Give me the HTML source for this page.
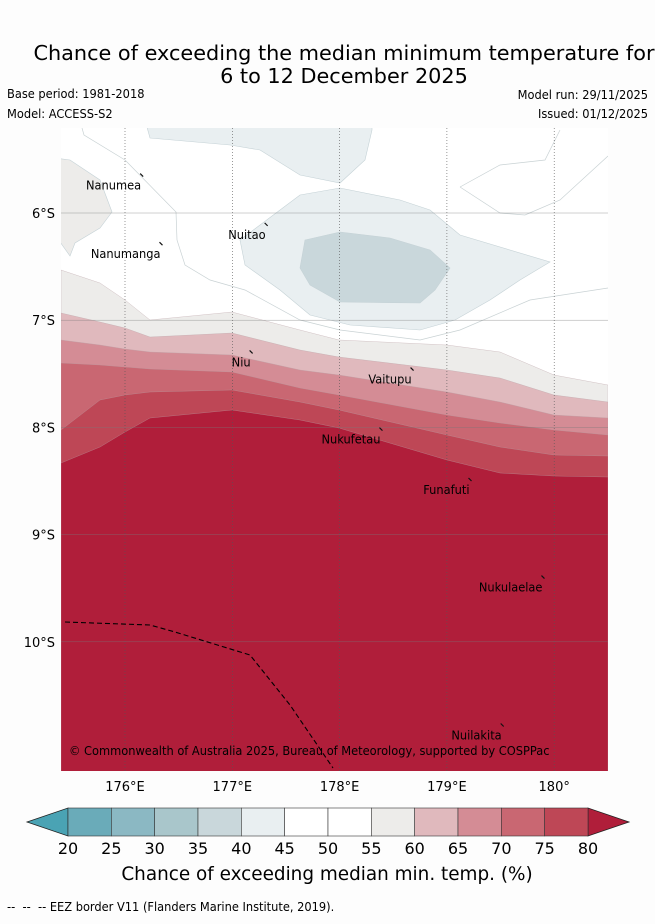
<!DOCTYPE html>
<html><head><meta charset="utf-8"><style>
html,body{margin:0;padding:0;background:#fdfdfd;}
svg text{font-family:"DejaVu Sans","Liberation Sans",sans-serif;}
.sm{font-family:"DejaVu Sans Condensed","DejaVu Sans","Liberation Sans",sans-serif;font-size:12.7px;fill:#000;}
</style></head><body>
<svg id="chart" width="655" height="919" viewBox="0 0 655 919" xmlns="http://www.w3.org/2000/svg">
<rect width="655" height="919" fill="#fdfdfd"/>
<text x="344" y="60" text-anchor="middle" font-size="20.8">Chance of exceeding the median minimum temperature for</text>
<text x="344" y="83" text-anchor="middle" font-size="20.8">6 to 12 December 2025</text>
<text x="7" y="98" class="sm">Base period: 1981-2018</text>
<text x="7" y="118" class="sm">Model: ACCESS-S2</text>
<text x="648" y="99" class="sm" text-anchor="end">Model run: 29/11/2025</text>
<text x="648" y="118" class="sm" text-anchor="end">Issued: 01/12/2025</text>
<defs><clipPath id="mapclip"><rect x="61" y="128" width="547" height="643"/></clipPath></defs>
<g id="map" clip-path="url(#mapclip)"></g>
<g id="axes"></g>
<g id="cbar"></g>
<text x="327" y="880" text-anchor="middle" font-size="18.4">Chance of exceeding median min. temp. (%)</text>
<text x="7" y="911" class="sm">-- &#160;-- &#160;-- EEZ border V11 (Flanders Marine Institute, 2019).</text>
</svg>
<script>
// Axis / data arrays
const lonTicks = [176, 177, 178, 179, 180];
const lonLabels = ["176°E", "177°E", "178°E", "179°E", "180°"];
const latTicks = [6, 7, 8, 9, 10];
const latLabels = ["6°S", "7°S", "8°S", "9°S", "10°S"];
const cbarLevels = [20, 25, 30, 35, 40, 45, 50, 55, 60, 65, 70, 75, 80];
const cbarColors = ["#6aabb9","#8bb8c3","#a9c6cb","#c9d7db","#e9eff1","#ffffff","#ffffff","#edecea","#e0b9bd","#d48c95","#c96772","#be4756"];
// Contour boundaries (pixel-estimated), bands filled from boundary downward
const xs = [61,100,125,150,232,300,339,447,500,554,608];
const band55 = [270,283,300,320,312,330,340,345,352,375,385];
const band60 = [313,322,328,337,333,350,357,370,378,395,402];
const band65 = [340,345,349,352,355,370,375,392,402,415,418];
const band70 = [363,365,367,369,372,388,395,415,423,430,435];
const band75 = [430,400,395,392,390,402,410,435,447,455,456];
const band80 = [463,447,432,418,410,420,428,460,473,476,477];
const bandLevels = [55,60,65,70,75,80];
const bandFill = ["#edecea","#e0b9bd","#d48c95","#c96772","#be4756","#b01e3a"];
const islands = ["Nanumea","Nuitao","Nanumanga","Niu","Vaitupu","Nukufetau","Funafuti","Nukulaelae","Nuilakita"];
const islandLon = [176.16,177.32,176.34,177.18,178.68,178.39,179.22,179.9,179.52];
const islandLat = [5.66,6.12,6.3,7.31,7.47,8.03,8.5,9.41,10.79];

const X0=125, DX=107.3, Y0=213, DY=107.2;
const px = lon => X0 + (lon-176)*DX;
const py = lat => Y0 + (lat-6)*DY;
const toLon = x => 176 + (x-X0)/DX;
const toLat = y => 6 + (y-Y0)/DY;
const NS="http://www.w3.org/2000/svg";
function mk(tag, attrs, parent){const e=document.createElementNS(NS,tag);for(const k in attrs)e.setAttribute(k,attrs[k]);parent.appendChild(e);return e;}
const map=document.getElementById('map');
const bg=mk('rect',{x:61,y:128,width:547,height:643,fill:'#ffffff'},map);



function polyFromPx(pts){return pts.map(p=>px(toLon(p[0])).toFixed(1)+','+py(toLat(p[1])).toFixed(1)).join(' ');}
const blue40a=[[145,120],[372,120],[372,130],[365,160],[340,183],[300,175],[260,150],[230,145],[150,138]];
const blue40b=[[240,240],[300,195],[340,188],[400,200],[430,210],[460,235],[550,262],[520,280],[490,300],[455,320],[420,330],[350,325],[310,315],[280,290],[245,265]];
const blue35=[[305,240],[340,232],[390,238],[430,250],[450,268],[435,290],[420,303],[340,302],[310,285],[300,268]];
const grey55=[[55,158],[70,160],[100,180],[112,212],[100,228],[75,243],[70,256],[55,235]];
[[blue40a,'#e9eff1','region-40-45-north'],[blue40b,'#e9eff1','region-40-45-centre'],[blue35,'#c9d7db','region-35-40'],[grey55,'#edecea','region-55-60-west']].forEach(r=>{
  const p=mk('polygon',{points:polyFromPx(r[0]),fill:r[1],stroke:'#c5d2d6','stroke-width':0.6},map);
  
  
});
[[[82,128],[84,135],[125,160],[176,212],[177,240],[185,265],[210,280],[245,290],[300,320],[340,330],[420,340],[460,330],[530,300],[608,288]],
 [[460,187],[500,165],[545,160],[560,130]],[[460,187],[500,213],[525,215],[560,200],[608,156]]].forEach(l=>{
  const p=mk('polyline',{points:polyFromPx(l),fill:'none',stroke:'#c9d2d4','stroke-width':0.7},map);
  
  
});
const bands=[band55,band60,band65,band70,band75,band80];
bands.forEach((b,i)=>{
  const pts=xs.map((x,j)=>[x,b[j]]);
  pts.push([608,780],[61,780]);
  const p=mk('polygon',{points:polyFromPx(pts),fill:bandFill[i],stroke:'#b8a0a4','stroke-width':0.3},map);
  
  
});
lonTicks.forEach(l=>{const g=mk('line',{x1:px(l),x2:px(l),y1:128,y2:771,stroke:'#555','stroke-width':0.6,'stroke-dasharray':'1,2'},map);
  
  });
latTicks.forEach(l=>{const g=mk('line',{x1:61,x2:608,y1:py(l),y2:py(l),stroke:'#777','stroke-width':0.5,'stroke-opacity':0.7},map);
  
  });
const eez=[[65,622],[150,625],[175,632],[250,655],[290,705],[333,768]];
const ez=mk('polyline',{points:polyFromPx(eez),fill:'none',stroke:'#000','stroke-width':1.1,'stroke-dasharray':'5,3'},map);


islands.forEach((n,i)=>{
  const x=px(islandLon[i]), y=py(islandLat[i]);
  const m=mk('line',{x1:x-2,y1:y-3,x2:x+1,y2:y,stroke:'#111','stroke-width':1.2},map);
  
  
  const t=mk('text',{x:x-1,y:y+13,'text-anchor':'end',fill:'#111',class:'sm'},map);
  t.textContent=n;
  
  
});
const cp=mk('text',{x:69,y:755,fill:'#7a2030',class:'sm'},map);
cp.textContent='© Commonwealth of Australia 2025, Bureau of Meteorology, supported by COSPPac';


const axes=document.getElementById('axes');
lonTicks.forEach((l,i)=>{const t=mk('text',{x:px(l),y:791,'text-anchor':'middle','font-size':13},axes);t.textContent=lonLabels[i];
  
  });
latTicks.forEach((l,i)=>{const t=mk('text',{x:55,y:py(l)+5,'text-anchor':'end','font-size':13},axes);t.textContent=latLabels[i];
  
  });
const cb=document.getElementById('cbar');
const cx=v=>68+(v-20)*(520/60);
const cy0=808, cy1=836;
const lt=mk('polygon',{points:`27,822 ${cx(20)},${cy0} ${cx(20)},${cy1}`,fill:'#4aa3b4',stroke:'#222','stroke-width':0.8},cb);


const rt=mk('polygon',{points:`629,822 ${cx(80)},${cy0} ${cx(80)},${cy1}`,fill:'#b01e3a',stroke:'#222','stroke-width':0.8},cb);


cbarColors.forEach((c,i)=>{const r=mk('rect',{x:cx(cbarLevels[i]),y:cy0,width:cx(cbarLevels[i+1])-cx(cbarLevels[i]),height:cy1-cy0,fill:c,stroke:'#333','stroke-width':0.6},cb);
  
  });
cbarLevels.forEach(v=>{const t=mk('text',{x:cx(v),y:854,'text-anchor':'middle','font-size':16},cb);t.textContent=v;
  
  });
</script>
</body></html>
